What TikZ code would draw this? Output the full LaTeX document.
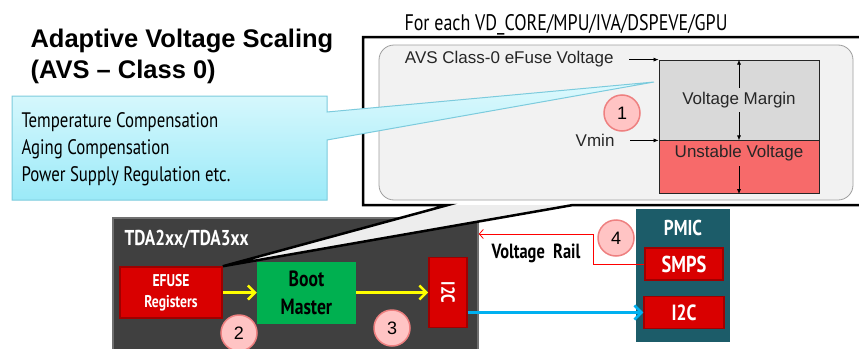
\documentclass[tikz,border=0pt]{standalone}
\usepackage{fontspec}
\setmainfont{Liberation Sans}
\newfontfamily\agency[FakeStretch=0.8]{PT Sans}
\usetikzlibrary{arrows.meta, positioning, calc}
\definecolor{cyantop}{HTML}{DDF9FD}
\definecolor{cyanbot}{HTML}{9BEAF8}
\definecolor{cyanline}{HTML}{7CCBDD}
\definecolor{roundgray}{HTML}{F2F2F2}
\definecolor{pointgray}{HTML}{EDEDED}
\definecolor{margingray}{HTML}{D9D9D9}
\definecolor{unstablered}{HTML}{F76A6A}
\definecolor{circfill}{HTML}{FFC4C4}
\definecolor{circline}{HTML}{EE8080}
\definecolor{tdagray}{HTML}{404040}
\definecolor{tdaline}{HTML}{707070}
\definecolor{avsred}{HTML}{D90000}
\definecolor{darkred}{HTML}{9E0000}
\definecolor{bootgreen}{HTML}{00B050}
\definecolor{pmicteal}{HTML}{1C5C69}
\definecolor{flowyellow}{HTML}{FFFF00}
\definecolor{i2cblue}{HTML}{00B0F0}
\definecolor{labelgray}{HTML}{262626}

\begin{document}
\begin{tikzpicture}[
x=1pt, y=-1pt,
redbox/.style={draw=darkred, line width=1.5pt, fill=avsred, text=white, inner sep=0pt, align=center, font=\agency\bfseries\fontsize{22}{22}\selectfont},
numcircle/.style={circle, draw=circline, fill=circfill, line width=1.5pt, minimum size=36pt, inner sep=0pt, font=\fontsize{18}{18}\selectfont},
vlabel/.style={text=labelgray, font=\fontsize{17}{18}\selectfont},
thinarrow/.style={-{Latex[length=5pt, width=4pt]}, line width=0.7pt},
flowarrow/.style={-{Straight Barb[length=7pt, width=14pt]}, line width=2.5pt}
]
\useasboundingbox (0,0) rectangle (859,348);

% chip side
\node[draw=tdaline, fill=tdagray, line width=1.5pt, minimum width=365pt, minimum height=145pt] (tda) at (295.5,290.5) {};
\node[anchor=base west, text=white, font=\agency\bfseries\fontsize{21.5}{22}\selectfont] (tdalabel) at (121,245) {TDA2xx/TDA3xx};
\node[redbox, minimum width=102pt, minimum height=51pt, font=\agency\bfseries\fontsize{17}{21}\selectfont] (efuse) at (171,292.5) {EFUSE\\Registers};
\node[draw=none, fill=bootgreen, minimum width=99pt, minimum height=62pt, align=center, font=\agency\bfseries\fontsize{22}{28}\selectfont, right=34pt of efuse] (boot) {Boot\\Master};
\node[redbox, minimum width=38pt, minimum height=70pt, right=72pt of boot] (i2ca) {};
\node[rotate=-90, text=white, font=\agency\bfseries\fontsize{19}{20}\selectfont] (i2calabel) at (i2ca) {I2C};

% PMIC side
\node[fill=pmicteal, minimum width=94pt, minimum height=133pt] (pmic) at (683,275.5) {};
\node[text=white, font=\agency\bfseries\fontsize{21.5}{22}\selectfont] (pmiclabel) at (683,228) {PMIC};
\node[redbox, minimum width=78pt, minimum height=32pt, font=\agency\bfseries\fontsize{23}{24}\selectfont] (smps) at (684,264) {SMPS};
\node[redbox, minimum width=80pt, minimum height=32pt, below=15pt of smps] (i2cb) {I2C};

% callout with the voltage budget
\coordinate (calloutA) at (448,205);
\coordinate (calloutB) at (573,205);
\fill[white] (363,37) -- (866,37) -- (866,205) -- (calloutB) -- (efuse.north east) -- (calloutA) -- (363,205) -- cycle;
\fill[pointgray] (calloutB) -- (efuse.north east) -- (calloutA) -- cycle;
\draw[line width=2.5pt, line join=miter] (363,37) -- (866,37) -- (866,205) -- (calloutB) -- (efuse.north east) -- (calloutA) -- (363,205) -- cycle;
\draw[draw=gray!75, fill=roundgray, line width=0.8pt, rounded corners=15pt] (379,45) rectangle (853,200);

\node[anchor=base west, font=\agency\fontsize{22.5}{24}\selectfont] (foreach) at (401,30) {For each VD\_CORE/MPU/IVA/DSPEVE/GPU};

\node[draw=labelgray, fill=margingray, line width=0.8pt, minimum width=160pt, minimum height=80pt] (margin) at (739,100) {};
\node[draw=labelgray, fill=unstablered, line width=0.8pt, minimum width=160pt, minimum height=53pt, below=0pt of margin] (unstable) {};
\node[vlabel, inner sep=4pt] (vmarg) at (739,100) {Voltage Margin};
\node[vlabel, inner sep=5pt] (vunst) at (739,153) {Unstable Voltage};
\node[vlabel, anchor=base east] (avsfuse) at (617,63) {AVS Class-0 eFuse Voltage};
\node[vlabel, anchor=base east] (vmin) at (618,146) {Vmin};

\draw[thinarrow] (vmarg.north) -- (margin.north);
\draw[thinarrow] (vmarg.south) -- (margin.south);
\draw[thinarrow] (vunst.south) -- (unstable.south);
\draw[thinarrow, shorten <=12pt] (avsfuse.east |- margin.north west) -- (margin.north west);
\draw[thinarrow, shorten <=12pt] (vmin.east |- margin.south west) -- (margin.south west);

% title and compensation callout
\node[anchor=base west, align=left, font=\bfseries\fontsize{25.5}{31}\selectfont] (title) at (27,78) {Adaptive Voltage Scaling\\(AVS – Class 0)};
\path[draw=cyanline, line width=1pt, top color=cyantop, bottom color=cyanbot] (12,96) -- (327,96) -- (327,112) -- (654,82) -- (327,140) -- (327,200) -- (12,200) -- cycle;
\node[anchor=west, align=left, font=\agency\fontsize{21}{27}\selectfont] (factors) at (18,149) {Temperature Compensation\\Aging Compensation\\Power Supply Regulation etc.};

% connections
\draw[flowarrow, flowyellow] (efuse.east) -- (efuse.east -| boot.west);
\draw[flowarrow, flowyellow] (boot.east |- efuse.east) -- (efuse.east -| i2ca.west);
\draw[flowarrow, i2cblue] (i2ca.east |- i2cb.west) -- (i2cb.west);
\coordinate (railtop) at (593,234);
\draw[red, line width=0.8pt, -{Straight Barb[length=4pt, width=9pt]}] (smps.west) -| (railtop) -- (tda.east |- railtop);
\node[font=\agency\bfseries\fontsize{20.5}{24}\selectfont] (rail) at (536,253) {Voltage\ \ Rail};

% step numbers
\node[numcircle] (step1) at (622,113) {1};
\node[numcircle] (step2) at (239,333) {2};
\node[numcircle] (step3) at (392,328) {3};
\node[numcircle] (step4) at (616,238) {4};

\end{tikzpicture}
\end{document}
